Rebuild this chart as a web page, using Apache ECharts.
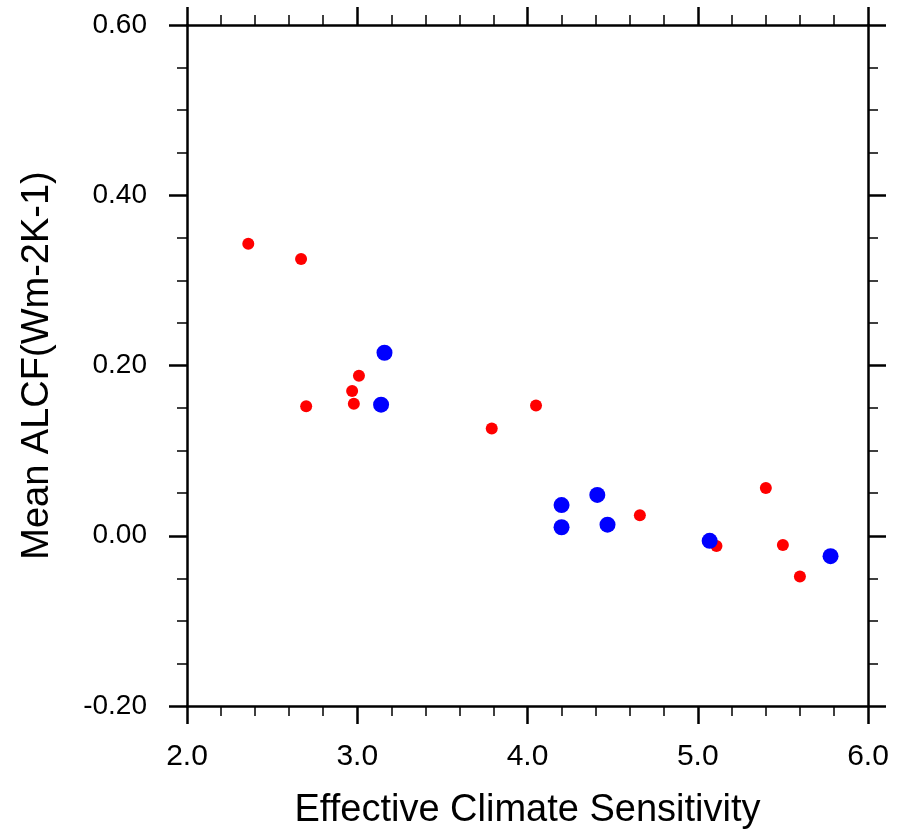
<!DOCTYPE html>
<html>
<head>
<meta charset="utf-8">
<script src="https://cdn.jsdelivr.net/npm/echarts@6/dist/echarts.min.js"></script>
<style>
  html, body { margin: 0; padding: 0; background: #fff; }
  #main { width: 907px; height: 829px; }
</style>
</head>
<body>
<div id="main"></div>
<script>
// values
var redX = [2.36, 2.67, 2.70, 2.97, 2.98, 3.01, 3.79, 4.05, 4.66, 5.11, 5.40, 5.50, 5.60];
var redY = [0.343, 0.325, 0.152, 0.170, 0.155, 0.188, 0.126, 0.153, 0.024, -0.012, 0.056, -0.011, -0.048];
var blueX = [3.16, 3.14, 4.20, 4.20, 4.41, 4.47, 5.07, 5.78];
var blueY = [0.215, 0.154, 0.036, 0.010, 0.048, 0.013, -0.006, -0.024];
var xTicks = [2.0, 3.0, 4.0, 5.0, 6.0];
var yTicks = [-0.20, 0.00, 0.20, 0.40, 0.60];

var font = '"Liberation Sans", Arial, Helvetica, sans-serif';

function pairs(xs, ys) {
  return xs.map(function (x, i) { return [x, ys[i]]; });
}

// shared tick style: everything outward, black
var lineBlack = { show: true, onZero: false, lineStyle: { color: '#000', width: 2.5 } };
var majorTick = { show: true, length: 18, lineStyle: { color: '#000', width: 2.5 } };
function minor(n) {
  return { show: true, splitNumber: n, length: 10, lineStyle: { color: '#000', width: 1.5 } };
}

var myChart = echarts.init(document.getElementById('main'));
var option = {
  backgroundColor: '#fff',
  animation: false,
  grid: { left: 187, right: 39, top: 25, bottom: 123, containLabel: false, outerBoundsMode: 'none' },
  xAxis: [
    {
      type: 'value',
      position: 'bottom',
      min: xTicks[0], max: xTicks[xTicks.length - 1], interval: 1,
      name: 'Effective Climate Sensitivity',
      nameLocation: 'middle',
      nameGap: 86,
      nameTextStyle: { fontFamily: font, fontSize: 38, color: '#000' },
      axisLine: lineBlack,
      axisTick: majorTick,
      minorTick: minor(5),
      splitLine: { show: false },
      axisLabel: {
        margin: 36, fontFamily: font, fontSize: 30, color: '#000',
        formatter: function (v) { return v.toFixed(1); }
      }
    },
    {
      type: 'value',
      position: 'top',
      min: xTicks[0], max: xTicks[xTicks.length - 1], interval: 1,
      axisLine: lineBlack,
      axisTick: majorTick,
      minorTick: minor(5),
      splitLine: { show: false },
      axisLabel: { show: false }
    }
  ],
  yAxis: [
    {
      type: 'value',
      position: 'left',
      min: yTicks[0], max: yTicks[yTicks.length - 1], interval: 0.2,
      name: 'Mean ALCF(Wm-2K-1)',
      nameLocation: 'middle',
      nameGap: 130,
      nameTextStyle: { fontFamily: font, fontSize: 38, color: '#000' },
      axisLine: lineBlack,
      axisTick: majorTick,
      minorTick: minor(4),
      splitLine: { show: false },
      axisLabel: {
        margin: 40, fontFamily: font, fontSize: 28, color: '#000',
        formatter: function (v) { return v.toFixed(2); }
      }
    },
    {
      type: 'value',
      position: 'right',
      min: yTicks[0], max: yTicks[yTicks.length - 1], interval: 0.2,
      axisLine: lineBlack,
      axisTick: majorTick,
      minorTick: minor(4),
      splitLine: { show: false },
      axisLabel: { show: false }
    }
  ],
  series: [
    {
      name: 'red',
      type: 'scatter',
      xAxisIndex: 0, yAxisIndex: 0,
      symbol: 'circle',
      symbolSize: 12,
      itemStyle: { color: '#ff0000', opacity: 1 },
      data: pairs(redX, redY)
    },
    {
      name: 'blue',
      type: 'scatter',
      xAxisIndex: 0, yAxisIndex: 0,
      symbol: 'circle',
      symbolSize: 16,
      itemStyle: { color: '#0000ff', opacity: 1 },
      data: pairs(blueX, blueY)
    }
  ]
};
myChart.setOption(option);
</script>
</body>
</html>
